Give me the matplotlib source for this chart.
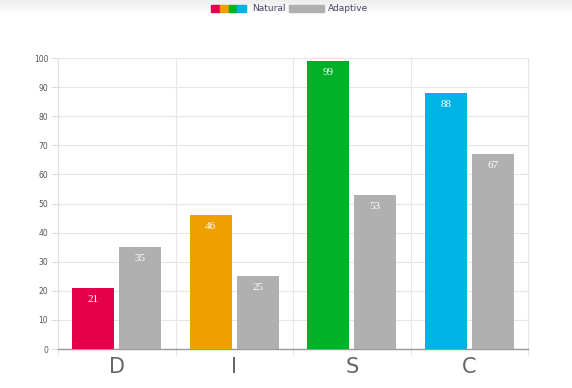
import matplotlib.pyplot as plt
import numpy as np
from matplotlib.patches import Rectangle

# data
categories = ['D', 'I', 'S', 'C']
natural = [21, 46, 99, 88]
adaptive = [35, 25, 53, 67]
natural_colors = ['#E5004C', '#EDA000', '#00B026', '#00B3E6']
adaptive_color = '#B0B0B0'

fig = plt.figure(figsize=(5.72, 3.88), dpi=100)

# faint shadow band at the very top
shade = fig.add_axes([0, 0.965, 1, 0.035])
shade.imshow(np.linspace(0.93, 1, 20).reshape(-1, 1), cmap='gray', vmin=0, vmax=1,
             aspect='auto', extent=[0, 1, 0, 1])
shade.axis('off')

ax = fig.add_axes([0.1014, 0.1005, 0.8217, 0.75])
x = np.arange(len(categories))
w = 0.36
b1 = ax.bar(x - 0.2, natural, w, color=natural_colors, zorder=3)
b2 = ax.bar(x + 0.2, adaptive, w, color=adaptive_color, zorder=3)

for bars, vals in [(b1, natural), (b2, adaptive)]:
    for r, v in zip(bars, vals):
        ax.text(r.get_x() + r.get_width() / 2, v - 4, str(v), ha='center', va='center',
                color='white', fontsize=8, family='Liberation Serif', zorder=4)

ax.set_xlim(-0.5, 3.5)
ax.set_ylim(0, 100)
ax.set_yticks(range(0, 101, 10))
ax.set_xticks(x)
ax.set_xticklabels(categories, fontsize=15, color='#666666')
ax.tick_params(axis='x', length=0, pad=6)
ax.tick_params(axis='y', labelsize=5.5, colors='#666666', length=5, width=0.8,
               color='#dddddd', pad=2)
for t in ax.get_yticklabels():
    t.set_color('#555555')
# vertical grid at category boundaries
for b in np.arange(-0.5, 4, 1):
    ax.plot([b, b], [-2, 100], color='#e6e6e6', lw=0.8, clip_on=False, zorder=1)
ax.grid(axis='y', color='#e6e6e6', lw=0.8, zorder=1)
for s in ['top', 'right']:
    ax.spines[s].set_visible(False)
ax.spines['left'].set_color('#e0e0e0')
ax.spines['bottom'].set_color('#999999')
ax.spines['bottom'].set_linewidth(1)

# legend drawn in pixel coords of the figure
W, H = 572, 388
def px(xp, yp):
    return xp / W, 1 - yp / H
sw = 35 / 4
for i, c in enumerate(natural_colors):
    fig.patches.append(Rectangle(px(211 + i * sw, 12), sw / W, 7 / H,
                                 transform=fig.transFigure, color=c))
fig.text(*px(252, 8.5), 'Natural', fontsize=6.5, color='#444466', va='center')
fig.patches.append(Rectangle(px(289, 12), 35 / W, 7 / H,
                             transform=fig.transFigure, color=adaptive_color))
fig.text(*px(328, 8.5), 'Adaptive', fontsize=6.5, color='#444466', va='center')

fig.savefig('out.png', dpi=100)
